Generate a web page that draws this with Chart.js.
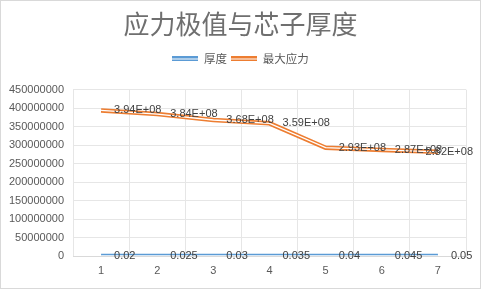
<!DOCTYPE html>
<html>
<head>
<meta charset="utf-8">
<script src="https://cdn.jsdelivr.net/npm/chart.js@4.4.1/dist/chart.umd.min.js"></script>
<style>
    html, body { margin: 0; padding: 0; background: #fff; }
    #wrap { width: 481px; height: 289px; position: relative; }
</style>
</head>
<body>
<div id="wrap"><canvas id="myChart"></canvas></div>
<script>
/* ===============================
   DATA
=============================== */
const categories = ["1", "2", "3", "4", "5", "6", "7"];
const thickness = [0.02, 0.025, 0.03, 0.035, 0.04, 0.045, 0.05];
const maxStress = [394000000, 384000000, 368000000, 359000000, 293000000, 287000000, 282000000];
const yMin = 0;
const yMax = 450000000;
const yStep = 50000000;

const BLUE = "#5b9bd5";
const ORANGE = "#ed7d31";
const NUM_FONT = "'Liberation Sans', 'Noto Sans CJK SC', sans-serif";
const CJK_FONT = "'Noto Sans CJK SC', 'Liberation Sans', sans-serif";

/* ===============================
   HELPERS
=============================== */
function sci(v) {
    const parts = v.toExponential(2).split("e");
    const n = parseInt(parts[1], 10);
    return parts[0] + "E" + (n < 0 ? "-" : "+") + String(Math.abs(n)).padStart(2, "0");
}

function doubleLineIcon(color) {
    const c = document.createElement("canvas");
    c.width = 26;
    c.height = 5;
    const g = c.getContext("2d");
    g.fillStyle = color;
    g.fillRect(0, 0, 26, 5);
    g.fillStyle = "#fff";
    g.fillRect(0, 2, 26, 1);
    return c;
}

/* ===============================
   PLUGINS
=============================== */
const frame = {
    id: "frame",
    afterInit(chart) {
        // leave a gap under the legend, like the original
        const fit = chart.legend.fit;
        chart.legend.fit = function () {
            fit.call(this);
            this.height += 15;
        };
    },
    beforeDraw(chart) {
        const ctx = chart.ctx;
        ctx.save();
        ctx.fillStyle = "#fff";
        ctx.fillRect(0, 0, chart.width, chart.height);
        ctx.strokeStyle = "#d9d9d9";
        ctx.lineWidth = 1;
        ctx.strokeRect(0.5, 0.5, chart.width - 1, chart.height - 1);
        ctx.restore();
    }
};

const valueLabels = {
    id: "valueLabels",
    afterDatasetsDraw(chart) {
        const ctx = chart.ctx;
        ctx.save();
        ctx.font = "11px " + NUM_FONT;
        ctx.fillStyle = "#404040";
        ctx.textBaseline = "middle";
        ctx.textAlign = "left";
        chart.data.datasets.forEach((ds, i) => {
            if (ds.overlay) return;
            const meta = chart.getDatasetMeta(i);
            meta.data.forEach((pt, j) => {
                const text = ds.fmt(ds.data[j]);
                const w = ctx.measureText(text).width;
                let x = pt.x + 13;
                if (x + w > chart.width - 8) x = chart.width - 8 - w;
                ctx.fillText(text, x, pt.y);
            });
        });
        ctx.restore();
    }
};

/* ===============================
   CHART
=============================== */
const ctx = document.getElementById("myChart");

new Chart(ctx, {
    type: "line",
    data: {
        labels: categories,
        datasets: [
            {
                label: "厚度",
                data: thickness,
                borderColor: BLUE,
                borderWidth: 4.5,
                pointRadius: 0,
                tension: 0,
                order: 2,
                fmt: v => String(v),
                legendIcon: doubleLineIcon(BLUE)
            },
            {
                label: "最大应力",
                data: maxStress,
                borderColor: ORANGE,
                borderWidth: 4.5,
                pointRadius: 0,
                tension: 0,
                order: 2,
                fmt: sci,
                legendIcon: doubleLineIcon(ORANGE)
            },
            {
                label: "厚度-inner",
                data: thickness,
                overlay: true,
                borderColor: "#fff",
                borderWidth: 1.3,
                pointRadius: 0,
                tension: 0,
                order: 1
            },
            {
                label: "最大应力-inner",
                data: maxStress,
                overlay: true,
                borderColor: "#fff",
                borderWidth: 1.3,
                pointRadius: 0,
                tension: 0,
                order: 1
            }
        ]
    },
    options: {
        responsive: true,
        maintainAspectRatio: false,
        animation: false,
        layout: {
            padding: 0
        },
        plugins: {
            tooltip: { enabled: false },
            title: {
                display: true,
                text: "应力极值与芯子厚度",
                color: "#6f6f6f",
                font: { family: CJK_FONT, size: 26, weight: "normal" },
                padding: { top: 9, bottom: 9 }
            },
            legend: {
                display: true,
                labels: {
                    usePointStyle: true,
                    pointStyleWidth: 26,
                    padding: 4,
                    color: "#595959",
                    font: { family: CJK_FONT, size: 11.5 },
                    generateLabels(chart) {
                        return chart.data.datasets
                            .map((ds, i) => ({
                                text: ds.label,
                                datasetIndex: i,
                                pointStyle: ds.legendIcon,
                                fillStyle: ds.borderColor,
                                strokeStyle: ds.borderColor,
                                lineWidth: 0,
                                fontColor: "#595959",
                                hidden: false
                            }))
                            .filter(item => !chart.data.datasets[item.datasetIndex].overlay);
                    }
                }
            }
        },
        scales: {
            x: {
                type: "category",
                offset: true,
                grid: { offset: true, color: "#e6e6e6", drawTicks: false },
                border: { color: "#d9d9d9" },
                ticks: {
                    color: "#595959",
                    font: { family: NUM_FONT, size: 11 },
                    padding: 8,
                    maxRotation: 0
                },
                afterFit(scale) {
                    scale.height = 33;
                }
            },
            y: {
                min: yMin,
                max: yMax,
                grid: { color: "#e6e6e6", drawTicks: false },
                border: { display: false },
                ticks: {
                    stepSize: yStep,
                    color: "#595959",
                    font: { family: NUM_FONT, size: 11 },
                    padding: 9,
                    callback: v => String(v)
                },
                afterFit(scale) {
                    scale.width = 73;
                }
            },
            // empty right-hand margin, keeps title and legend centred on the full width
            gap: {
                type: "linear",
                position: "right",
                grid: { display: false },
                border: { display: false },
                ticks: { display: false },
                afterFit(scale) {
                    scale.width = 15;
                }
            }
        }
    },
    plugins: [frame, valueLabels]
});
</script>
</body>
</html>
